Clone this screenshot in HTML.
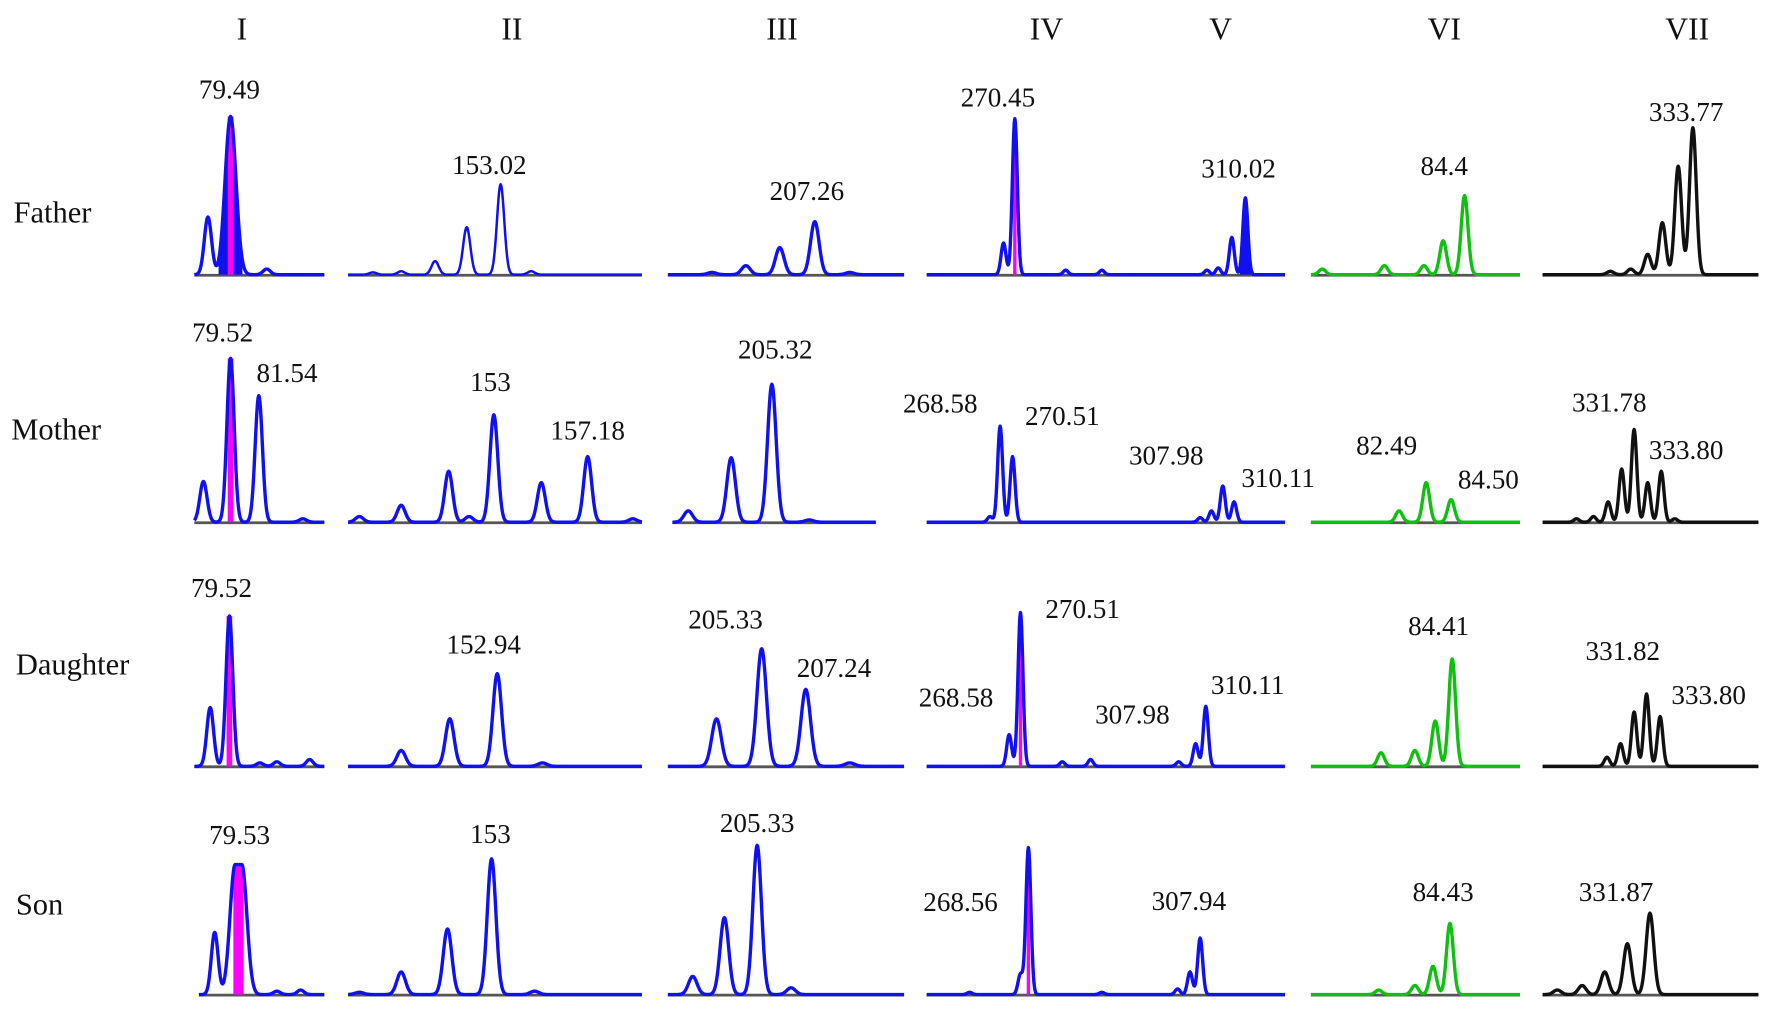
<!DOCTYPE html>
<html><head><meta charset="utf-8">
<style>
html,body{margin:0;padding:0;background:#fff;}
svg{display:block;}
text{font-family:"Liberation Serif","Times New Roman",serif;fill:#111;}
</style></head>
<body>
<svg id="fig" width="1772" height="1024" viewBox="0 0 1568 906" xmlns="http://www.w3.org/2000/svg">
<g font-size="28" text-anchor="middle">
<text x="214" y="35">I</text>
<text x="453" y="35">II</text>
<text x="692" y="35">III</text>
<text x="926" y="35">IV</text>
<text x="1080" y="35">V</text>
<text x="1278" y="35">VI</text>
<text x="1493" y="35">VII</text>
</g>
<g font-size="27">
<text x="12" y="197">Father</text>
<text x="10" y="389">Mother</text>
<text x="14" y="597">Daughter</text>
<text x="14" y="809">Son</text>
</g>
<g id="traces"></g>
<g id="labels" font-size="24" text-anchor="middle"></g>
</svg>
<script>
// Peak data: positions (scan units from panel start), heights (RFU-like units)
const fI_pos=[12,32,64];           const fI_h=[51,140,5];
const fII_pos=[22,47,77,105,135,162]; const fII_h=[2,3,12,42,80,3];
const fIII_pos=[39,69,99,130,161]; const fIII_h=[2,8,24,47,2];
const fIV_pos=[68,78,123,155,248,258,270,282]; const fIV_h=[28,138,4,4,4,6,33,68];
const fVI_pos=[10,65,100,117,136]; const fVI_h=[5,8,8,30,70];
const fVII_pos=[60,78,93,106,120,133]; const fVII_h=[3,5,18,46,96,130];

const mI_pos=[8,32,57,96];         const mI_h=[36,145,112,3];
const mII_pos=[10,47,89,107,129,171,212,252]; const mII_h=[5,15,45,5,95,35,58,3];
const mIII_pos=[14,52,88,121];     const mIII_h=[10,57,122,2];
const mIV_pos=[56,65,76,242,252,262,272]; const mIV_h=[5,85,58,4,10,32,18];
const mVI_pos=[78,102,124];        const mVI_h=[10,35,20];
const mVII_pos=[30,45,58,70,81,93,105,117]; const mVII_h=[3,5,18,47,82,35,45,3];

const dI_pos=[14,31,58,73,102];    const dI_h=[52,133,3,4,6];
const dII_pos=[47,90,132,172];     const dII_h=[14,42,82,3];
const dIII_pos=[43,83,122,161];    const dIII_h=[42,104,68,3];
const dIV_pos=[73,83,120,145,223,238,247]; const dIV_h=[28,136,4,6,4,20,53];
const dVI_pos=[62,92,110,125];     const dVI_h=[12,14,40,95];
const dVII_pos=[57,69,81,92,104];  const dVII_h=[8,20,48,64,44];

const sI_pos=[14,35,69,90];        const sI_h=[55,115,3,4];
const sII_pos=[10,47,88,127,165];  const sII_h=[2,20,58,120,3];
const sIII_pos=[22,50,79,109];     const sIII_h=[16,68,132,6];
const sIV_pos=[38,83,90,155,222,233,242]; const sIV_h=[2,18,130,2,5,20,50];
const sVI_pos=[60,92,108,123];     const sVI_h=[4,8,25,63];
const sVII_pos=[13,35,55,75,95];   const sVII_h=[4,8,20,45,72];

// Peak labels
const labelText=["79.49","153.02","207.26","270.45","310.02","84.4","333.77",
 "79.52","81.54","153","157.18","205.32","268.58","270.51","307.98","310.11","82.49","84.50","331.78","333.80",
 "79.52","152.94","205.33","207.24","270.51","268.58","307.98","310.11","84.41","331.82","333.80",
 "79.53","153","205.33","268.56","307.94","84.43","331.87"];
const labelX=[203,433,714,883,1096,1278,1492, 197,254,434,520,686,832,940,1032,1131,1227,1317,1424,1492,
 196,428,642,738,958,846,1002,1104,1273,1436,1512, 212,434,670,850,1052,1277,1430];
const labelY=[87,154,177,94,157,155,107, 302,338,346,389,317,365,376,411,431,402,432,364,406,
 528,578,556,599,547,625,640,614,562,584,623, 747,746,736,806,805,797,797];

const BLUE="#1010f0", GREEN="#10c010", BLACK="#111";
const rows=[243,462,678,880];
const panels=[
 {n:"father-I",x0:172,x1:287,b:0,c:BLUE,s:3.2,p:fI_pos,h:fI_h,sw:1,mk:[1],fill:[1]},
 {n:"father-II",x0:308,x1:568,b:0,c:BLUE,s:3.2,p:fII_pos,h:fII_h,sw:0,mk:[],fill:[],thin:1},
 {n:"father-III",x0:591,x1:800,b:0,c:BLUE,s:3.8,p:fIII_pos,h:fIII_h,sw:0,mk:[],fill:[]},
 {n:"father-IV-V",x0:820,x1:1137,b:0,c:BLUE,s:2.2,p:fIV_pos,h:fIV_h,sw:0,mk:[1],fill:[7]},
 {n:"father-VI",x0:1160,x1:1345,b:0,c:GREEN,s:3,p:fVI_pos,h:fVI_h,sw:0,mk:[],fill:[]},
 {n:"father-VII",x0:1365,x1:1556,b:0,c:BLACK,s:3,p:fVII_pos,h:fVII_h,sw:0,mk:[],fill:[]},
 {n:"mother-I",x0:172,x1:287,b:1,c:BLUE,s:3.2,p:mI_pos,h:mI_h,sw:0,mk:[1],fill:[]},
 {n:"mother-II",x0:308,x1:568,b:1,c:BLUE,s:3.5,p:mII_pos,h:mII_h,sw:0,mk:[],fill:[]},
 {n:"mother-III",x0:595,x1:775,b:1,c:BLUE,s:3.8,p:mIII_pos,h:mIII_h,sw:0,mk:[],fill:[]},
 {n:"mother-IV-V",x0:820,x1:1137,b:1,c:BLUE,s:2.2,p:mIV_pos,h:mIV_h,sw:0,mk:[],fill:[]},
 {n:"mother-VI",x0:1160,x1:1345,b:1,c:GREEN,s:3,p:mVI_pos,h:mVI_h,sw:0,mk:[],fill:[]},
 {n:"mother-VII",x0:1365,x1:1556,b:1,c:BLACK,s:2.4,p:mVII_pos,h:mVII_h,sw:0,mk:[],fill:[]},
 {n:"daughter-I",x0:172,x1:287,b:2,c:BLUE,s:3,p:dI_pos,h:dI_h,sw:0,mk:[1],fill:[]},
 {n:"daughter-II",x0:308,x1:568,b:2,c:BLUE,s:3.8,p:dII_pos,h:dII_h,sw:0,mk:[],fill:[]},
 {n:"daughter-III",x0:591,x1:800,b:2,c:BLUE,s:4.2,p:dIII_pos,h:dIII_h,sw:0,mk:[],fill:[]},
 {n:"daughter-IV-V",x0:820,x1:1137,b:2,c:BLUE,s:2.2,p:dIV_pos,h:dIV_h,sw:0,mk:[1],fill:[]},
 {n:"daughter-VI",x0:1160,x1:1345,b:2,c:GREEN,s:3,p:dVI_pos,h:dVI_h,sw:0,mk:[],fill:[]},
 {n:"daughter-VII",x0:1365,x1:1556,b:2,c:BLACK,s:2.4,p:dVII_pos,h:dVII_h,sw:0,mk:[],fill:[]},
 {n:"son-I",x0:176,x1:287,b:3,c:BLUE,s:3,p:sI_pos,h:sI_h,sw:1,mk:[1],fill:[],flat:1},
 {n:"son-II",x0:308,x1:568,b:3,c:BLUE,s:3.8,p:sII_pos,h:sII_h,sw:0,mk:[],fill:[]},
 {n:"son-III",x0:591,x1:800,b:3,c:BLUE,s:3.8,p:sIII_pos,h:sIII_h,sw:0,mk:[],fill:[]},
 {n:"son-IV-V",x0:820,x1:1137,b:3,c:BLUE,s:2.2,p:sIV_pos,h:sIV_h,sw:0,mk:[2],fill:[]},
 {n:"son-VI",x0:1160,x1:1345,b:3,c:GREEN,s:3,p:sVI_pos,h:sVI_h,sw:0,mk:[],fill:[]},
 {n:"son-VII",x0:1365,x1:1556,b:3,c:BLACK,s:3.4,p:sVII_pos,h:sVII_h,sw:0,mk:[],fill:[]}
];
const NS="http://www.w3.org/2000/svg";
const g=document.getElementById('traces');
function xScale(P,v){return P.x0+v;}
function yScale(P,v){return rows[P.b]-v;}
function sig(P,i){return (P.sw&&i===1)?P.s*1.5:P.s;}
function shape(P,i,d){const s=sig(P,i);
  if(P.flat&&i===1){const a=Math.max(0,Math.abs(d)-3);return Math.exp(-a*a/(2*s*s));}
  return Math.exp(-d*d/(2*s*s));}
function val(P,x){let y=0;for(let i=0;i<P.p.length;i++){y+=P.h[i]*shape(P,i,x-xScale(P,P.p[i]));}return y;}
panels.forEach(P=>{
  const grp=document.createElementNS(NS,'g');
  
  
  g.appendChild(grp);
  const base=document.createElementNS(NS,'line');
  base.setAttribute('x1',P.x0);base.setAttribute('x2',P.x1);
  base.setAttribute('y1',rows[P.b]+0.5);base.setAttribute('y2',rows[P.b]+0.5);
  base.setAttribute('stroke','#555');base.setAttribute('stroke-width','2.5');
  
  
  grp.appendChild(base);
  P.fill.forEach(i=>{
    const cx=xScale(P,P.p[i]),s=sig(P,i);const e=2.2*s;let d='M'+(cx-e)+' '+rows[P.b];
    for(let x=cx-e;x<=cx+e;x+=0.5){d+=' L'+x.toFixed(1)+' '+(yScale(P,P.h[i]*shape(P,i,x-cx))).toFixed(1);}
    d+=' L'+(cx+e)+' '+rows[P.b]+' Z';
    const f=document.createElementNS(NS,'path');f.setAttribute('d',d);f.setAttribute('fill',P.c);
    
    
    grp.appendChild(f);
  });
  P.mk.forEach(i=>{
    const cx=xScale(P,P.p[i]),top=yScale(P,val(P,cx));
    const r=document.createElementNS(NS,'rect');
    const w=P.s<3?3:(P.flat?9:5);
    r.setAttribute('x',cx-w/2);r.setAttribute('y',top);r.setAttribute('width',w);r.setAttribute('height',rows[P.b]-top);
    r.setAttribute('fill','#ff00ff');
    
    
    grp.appendChild(r);
  });
  let d='';
  for(let x=P.x0;x<=P.x1;x+=0.5){d+=(d?' L':'M')+x.toFixed(1)+' '+yScale(P,val(P,x)).toFixed(1);}
  const path=document.createElementNS(NS,'path');
  path.setAttribute('d',d);path.setAttribute('fill','none');path.setAttribute('stroke',P.c);
  path.setAttribute('stroke-width',P.thin?'2.2':'3');path.setAttribute('stroke-linejoin','round');
  
  
  grp.appendChild(path);
});
const lg=document.getElementById('labels');
labelText.forEach((t,i)=>{
  const el=document.createElementNS(NS,'text');
  el.setAttribute('x',labelX[i]);el.setAttribute('y',labelY[i]);
  el.textContent=t;
  
  
  lg.appendChild(el);
});
</script>
</body></html>
